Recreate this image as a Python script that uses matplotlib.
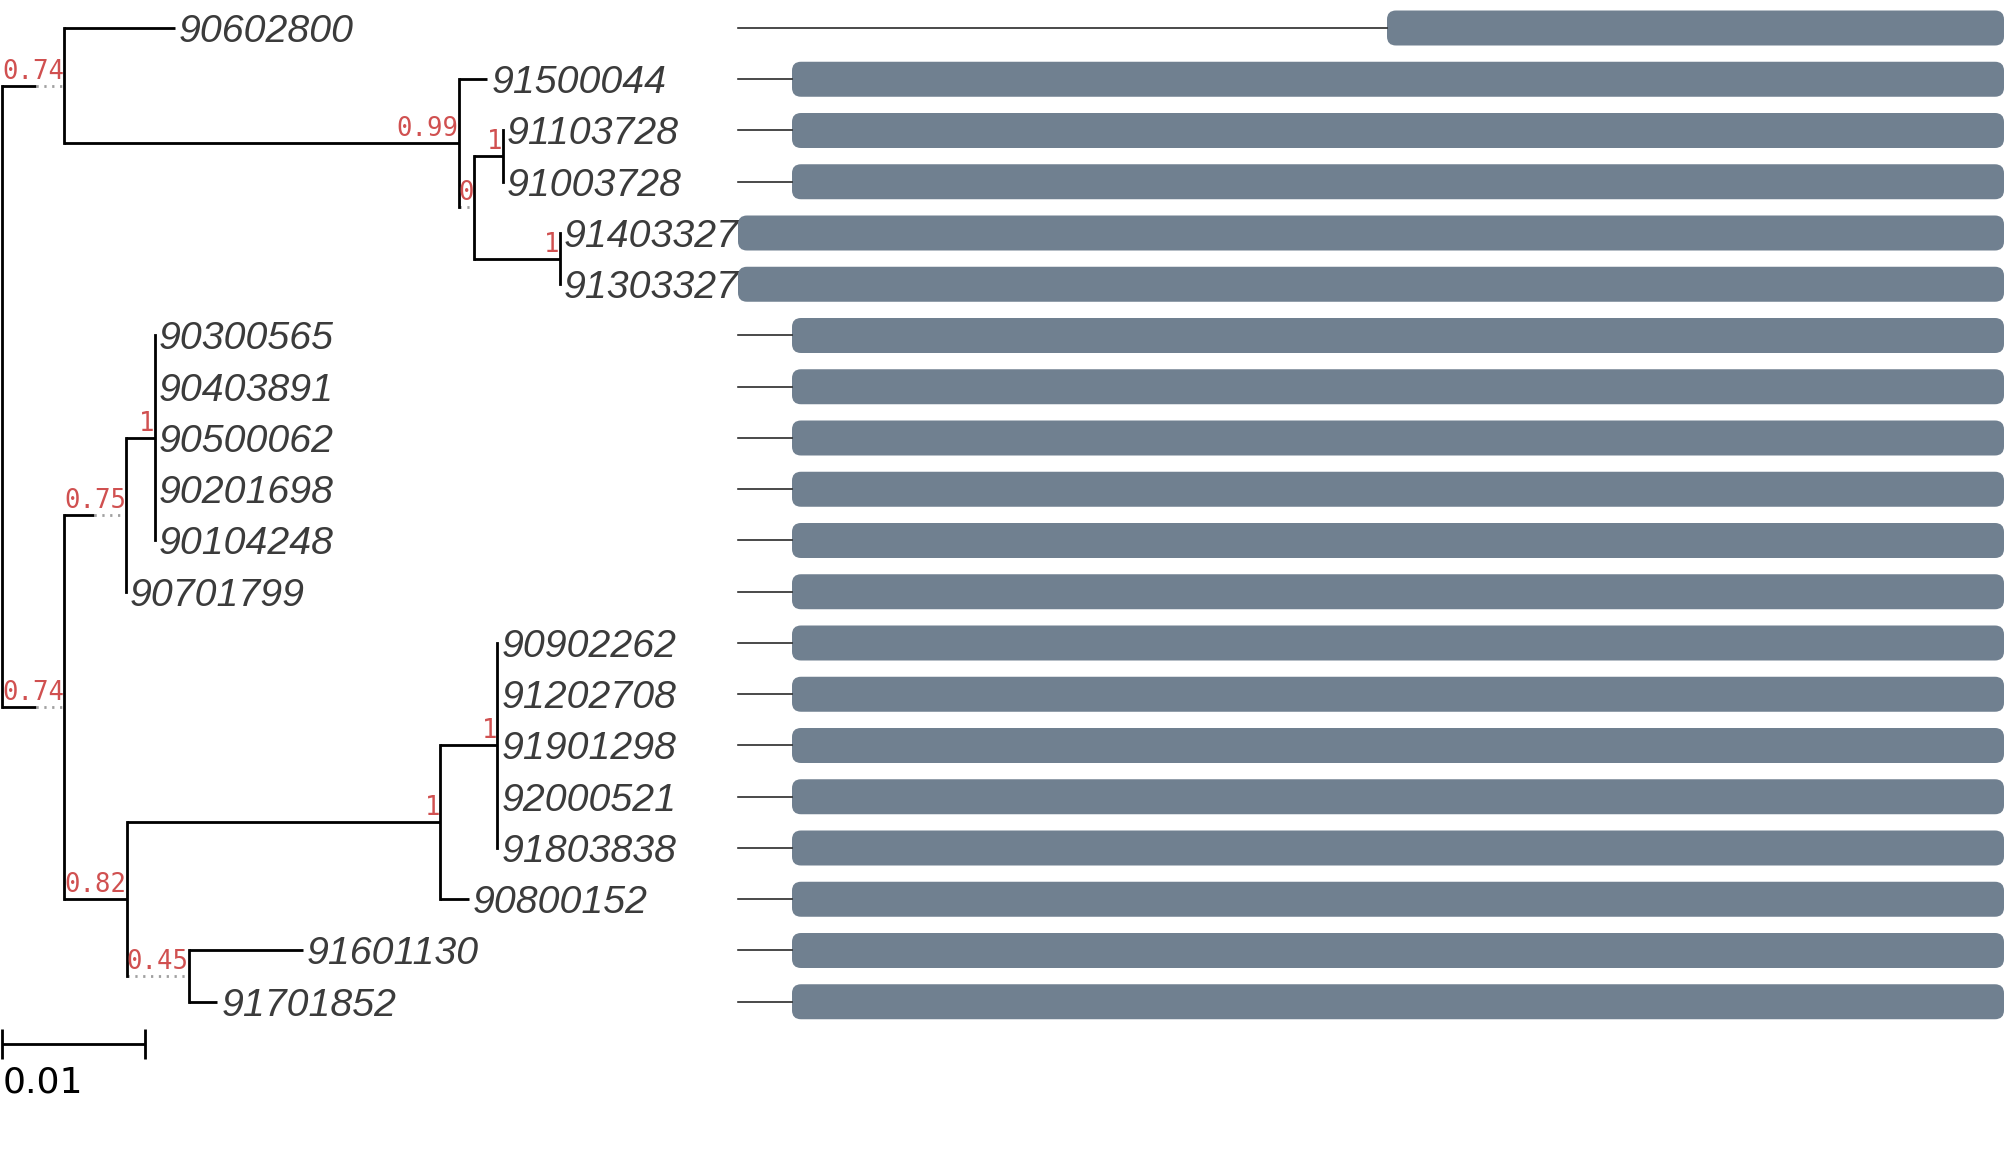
import matplotlib
matplotlib.use('Agg')
import matplotlib.pyplot as plt
from matplotlib.patches import FancyBboxPatch

# leaves, top to bottom
leaf_names = ['90602800', '91500044', '91103728', '91003728', '91403327',
              '91303327', '90300565', '90403891', '90500062', '90201698',
              '90104248', '90701799', '90902262', '91202708', '91901298',
              '92000521', '91803838', '90800152', '91601130', '91701852']
leaf_parent = ['A', 'C', 'E', 'E', 'F', 'F', 'I', 'I', 'I', 'I', 'I', 'G',
               'L', 'L', 'L', 'L', 'L', 'J', 'K', 'K']
leaf_length = [0.0078, 0.002, 0, 0, 0, 0, 0, 0, 0, 0, 0, 0,
               0, 0, 0, 0, 0, 0.002, 0.008, 0.002]

# internal nodes (parents listed before children)
node_names = ['A', 'C', 'D', 'E', 'F', 'B', 'G', 'I', 'H', 'J', 'L', 'K']
node_parent = ['root', 'A', 'C', 'D', 'D', 'root', 'B', 'G', 'B', 'H', 'J', 'H']
node_length = [0.0024, 0.0277, 0.0, 0.002, 0.006, 0.0024, 0.0021, 0.002,
               0.0044, 0.022, 0.004, 0.0]
node_support = ['0.74', '0.99', '0', '1', '1', '0.74', '0.75', '1',
                '0.82', '1', '1', '0.45']

# aligned domain track (sequence coordinates)
aln_length = 1266
domain_start = [649, 54, 54, 54, 0, 0] + [54] * 14
domain_end = [1266] * 20

scale_len = 0.01

W, H, DPI = 2007, 1172, 100
pt = 72.0 / DPI  # points per pixel
row_h = 51.25
nrows = len(leaf_names)
top_px = 28 - row_h / 2
bot_px = top_px + nrows * row_h
ax_b = 1 - bot_px / H
ax_h = (bot_px - top_px) / H
px_per_unit = 14250.0

fig = plt.figure(figsize=(W / DPI, H / DPI), dpi=DPI)
tree_ax = fig.add_axes([2 / W, ax_b, 730 / W, ax_h])
tree_ax.set_xlim(0, 730 / px_per_unit)
tree_ax.set_ylim(nrows - 0.5, -0.5)
tree_ax.axis('off')

aln_ax = fig.add_axes([738 / W, ax_b, (2004 - 738) / W, ax_h])
aln_ax.set_xlim(0, aln_length)
aln_ax.set_ylim(nrows - 0.5, -0.5)
aln_ax.axis('off')

renderer = fig.canvas.get_renderer()
lw = 2.8 * pt
line_kw = dict(color='black', lw=lw, clip_on=False)
sup_kw = dict(family='DejaVu Sans Mono', fontsize=18.5, color='#d05050',
              ha='right', va='baseline', textcoords='offset points',
              annotation_clip=False)
name_kw = dict(family='Liberation Sans', style='italic', fontsize=28.3,
               color='#3b3b3b', ha='left', va='baseline',
               textcoords='offset points', annotation_clip=False)


def data_w(ax, width_px):
    p0 = ax.transData.transform((0, 0))
    p1 = ax.transData.transform((1, 0))
    return width_px / (p1[0] - p0[0])


# y: bottom-up
ypos = {}
for i, n in enumerate(leaf_names):
    ypos[n] = float(i)
children = {n: [] for n in node_names + ['root']}
for n, p in zip(leaf_names, leaf_parent):
    children[p].append(n)
for n, p in zip(node_names, node_parent):
    children[p].append(n)
for n in reversed(['root'] + node_names):
    ys = [ypos[c] for c in children[n]]
    ypos[n] = (min(ys) + max(ys)) / 2

# x: top-down, branch padded to support label width (dotted)
xpos = {'root': 0.0}
for n, p, bl, s in zip(node_names, node_parent, node_length, node_support):
    ann = tree_ax.annotate(s, xy=(0, ypos[n]), xytext=(0, 7 * pt), **sup_kw)
    wlab = data_w(tree_ax, ann.get_window_extent(renderer).width)
    x0 = xpos[p]
    xend = x0 + max(bl, wlab)
    xpos[n] = xend
    ann.xy = (xend, ypos[n])
    if bl > 0:
        tree_ax.plot([x0, x0 + bl], [ypos[n]] * 2, solid_capstyle='butt', **line_kw)
    if wlab > bl:
        tree_ax.plot([x0 + bl, xend], [ypos[n]] * 2, color='#a0a0a0', lw=lw,
                     linestyle=(0, (0.8, 2.0)), clip_on=False)

for n, p, bl in zip(leaf_names, leaf_parent, leaf_length):
    x0 = xpos[p]
    xpos[n] = x0 + bl
    if bl > 0:
        tree_ax.plot([x0, x0 + bl], [ypos[n]] * 2, solid_capstyle='butt', **line_kw)
    tree_ax.annotate(n, xy=(xpos[n], ypos[n]), xytext=(4 * pt, -14 * pt), **name_kw)

for n in ['root'] + node_names:
    ys = [ypos[c] for c in children[n]]
    tree_ax.plot([xpos[n]] * 2, [min(ys), max(ys)], solid_capstyle='projecting',
                 **line_kw)

# scale bar
sb_y = (1044 - 28) / row_h
tick = 15 / row_h
tree_ax.plot([0, scale_len], [sb_y, sb_y], solid_capstyle='butt', **line_kw)
tree_ax.plot([0, 0], [sb_y - tick, sb_y + tick], solid_capstyle='butt', **line_kw)
tree_ax.plot([scale_len] * 2, [sb_y - tick, sb_y + tick], solid_capstyle='butt',
             **line_kw)
tree_ax.annotate('%g' % scale_len, xy=(0, sb_y), xytext=(1 * pt, -49 * pt),
                 textcoords='offset points', family='DejaVu Sans', fontsize=26,
                 color='black', ha='left', va='baseline', annotation_clip=False)

# domain track
p0 = aln_ax.transData.transform((0, 0))
p1 = aln_ax.transData.transform((1, 1))
aspect = abs((p1[0] - p0[0]) / (p1[1] - p0[1]))
bar_h = 35 / row_h
for i, (s, e) in enumerate(zip(domain_start, domain_end)):
    if s > 0:
        aln_ax.plot([0, s], [i, i], color='#222222', lw=1.6 * pt, clip_on=False)
    aln_ax.add_patch(FancyBboxPatch((s, i - bar_h / 2), e - s, bar_h,
                                    boxstyle='round,pad=0,rounding_size=9',
                                    mutation_aspect=aspect, fc='#708090',
                                    ec='none', clip_on=False))

fig.savefig('out.png', dpi=DPI)
